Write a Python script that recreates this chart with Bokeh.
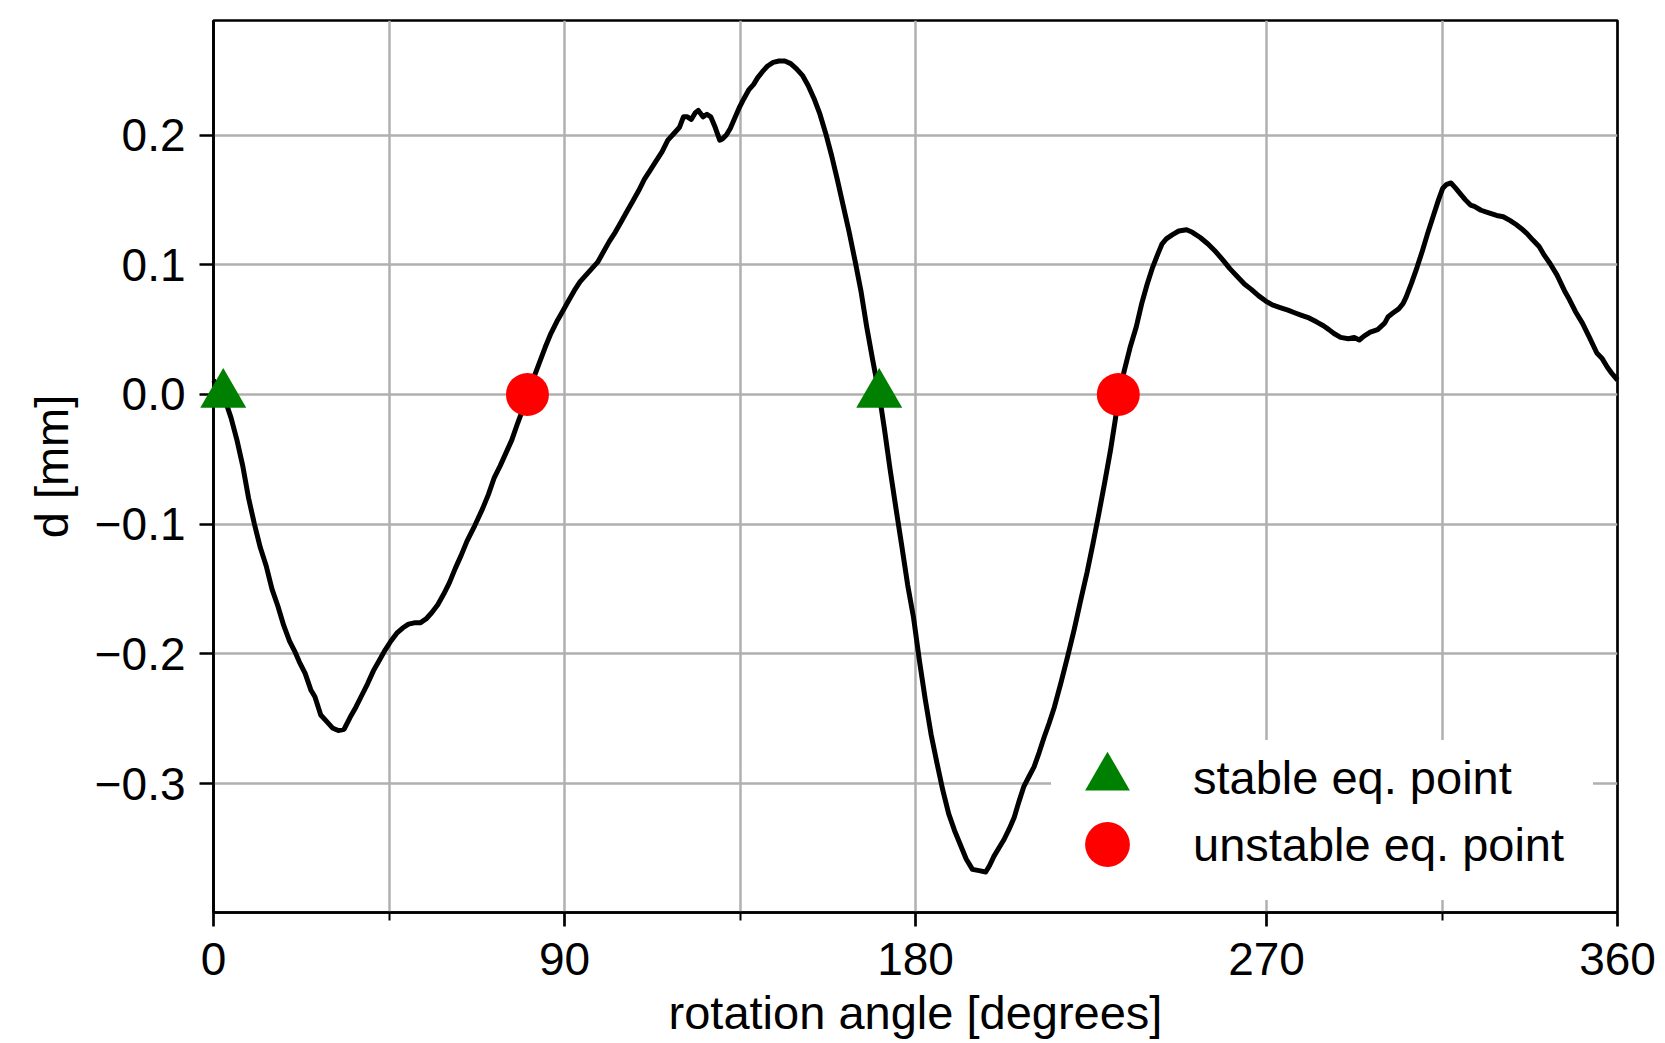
from bokeh.plotting import figure
from bokeh.models import Range1d, FixedTicker, CustomJSTickFormatter, Legend, LegendItem
from bokeh.embed import file_html
from bokeh.resources import INLINE

FONT = "Liberation Sans"

# ---- data ----
angle_deg = [
    0, 2.5, 4.5, 6, 7.5, 9, 10.5, 12, 13.5, 15, 16.5, 18, 19.5, 21, 22, 23.5, 25, 26, 27.5, 29,
    30.5, 32, 33.5, 35, 36.5, 38, 39.5, 41, 42.5, 44, 45.5, 47, 48.5, 50, 51.5, 53, 54.5, 56, 57.5, 59,
    60.5, 62, 63.5, 65, 67, 69, 70.5, 72, 73.5, 75, 76.5, 78, 79.5, 80.5,
    82, 83.5, 85, 86.5, 88, 89.5, 91, 92.5, 94, 95.5, 97, 98.5, 100, 101.5, 103, 104.5, 106, 107.5, 109, 110.5,
    112, 113.5, 115, 116.5, 118, 119.5, 120.5, 121.5, 122.5, 123.5, 124.3, 125.5, 126.5, 127.5, 128.5,
    129.8, 130.5, 131.5, 132.5, 133.5, 134.8, 136, 137.3, 138.5, 139.5, 140.8, 142, 143.5, 145, 146.5,
    148, 149.5, 151, 152.5, 154, 155.5, 157, 158.5, 160, 161.5, 163, 164.5, 166, 167.5, 169, 170.7,
    172, 173.5, 175, 176.5, 178, 179.5, 181, 182.5, 184, 185.5, 187, 188.5, 190, 191.5, 193,
    194.6, 196.3, 198, 199, 200.1, 201.5, 202.7, 204, 205.3, 206.5, 207.8, 209, 210.4, 211.7, 213,
    214.3, 215.6, 217.3, 219, 220.7, 222.4, 224, 225.5, 227, 228.5, 230, 231.2, 232.2,
    233.5, 235, 236.6, 238, 239.4, 240.8, 242.1, 243.2, 244.3, 245.8, 247.5, 249.5, 251, 253, 255,
    257, 259, 260.6, 262.5, 264.4, 266.1, 268, 269.8, 271.5, 273.5, 275.5, 277.2, 279, 280.9, 282.8,
    284.6, 286, 287.3, 289, 291, 292.5, 293.8, 295, 296.6, 298.5, 300.3, 301.2, 302.5, 303.9, 305,
    305.8, 307.2, 308.6, 310, 311.3, 312.7, 314.1, 315.2, 316.2, 317.3, 318.5, 319.6, 321, 322.3, 323.3,
    325, 327, 329, 330.7, 332.5, 334, 335.3, 336.8, 338.3, 339.9, 341.3, 342.7, 344.5, 346.4, 347.7,
    349.2, 351, 352.8, 354.7, 356, 357.4, 358.6, 360,
]
d_mm = [
    0.011, 0.0, -0.018, -0.035, -0.055, -0.080, -0.100, -0.118, -0.132, -0.150, -0.163, -0.178, -0.190, -0.199, -0.206, -0.215, -0.228, -0.233, -0.247, -0.252,
    -0.257, -0.259, -0.258, -0.249, -0.241, -0.232, -0.223, -0.213, -0.205, -0.197, -0.190, -0.184, -0.180, -0.177, -0.176, -0.176, -0.173, -0.168, -0.162, -0.154,
    -0.145, -0.134, -0.124, -0.113, -0.101, -0.088, -0.077, -0.064, -0.055, -0.045, -0.035, -0.022, -0.010, 0.0,
    0.012, 0.024, 0.036, 0.047, 0.056, 0.064, 0.072, 0.080, 0.087, 0.092, 0.097, 0.102, 0.110, 0.118, 0.125, 0.133, 0.141, 0.149, 0.157, 0.166,
    0.173, 0.180, 0.187, 0.196, 0.201, 0.206, 0.214, 0.214, 0.212, 0.217, 0.219, 0.214, 0.216, 0.214, 0.207,
    0.196, 0.197, 0.200, 0.205, 0.212, 0.221, 0.228, 0.235, 0.239, 0.244, 0.249, 0.253, 0.256, 0.257, 0.257,
    0.255, 0.251, 0.246, 0.238, 0.228, 0.216, 0.201, 0.184, 0.165, 0.145, 0.125, 0.103, 0.080, 0.052, 0.027, 0.0,
    -0.026, -0.058, -0.088, -0.117, -0.147, -0.172, -0.205, -0.235, -0.262, -0.284, -0.305, -0.323, -0.336, -0.347, -0.358,
    -0.366, -0.367, -0.368, -0.363, -0.356, -0.349, -0.343, -0.335, -0.326, -0.314, -0.302, -0.295, -0.287, -0.276, -0.264,
    -0.253, -0.241, -0.222, -0.202, -0.181, -0.158, -0.137, -0.115, -0.092, -0.068, -0.043, -0.020, 0.0,
    0.018, 0.036, 0.052, 0.070, 0.085, 0.098, 0.108, 0.116, 0.120, 0.123, 0.126, 0.127, 0.125, 0.121, 0.116,
    0.110, 0.103, 0.097, 0.091, 0.085, 0.081, 0.076, 0.072, 0.069, 0.067, 0.065, 0.063, 0.061, 0.059, 0.056,
    0.053, 0.050, 0.047, 0.044, 0.043, 0.044, 0.042, 0.045, 0.048, 0.050, 0.055, 0.060, 0.063, 0.066, 0.070,
    0.075, 0.086, 0.098, 0.111, 0.124, 0.137, 0.150, 0.159, 0.162, 0.163, 0.159, 0.155, 0.150, 0.146, 0.145,
    0.142, 0.140, 0.138, 0.137, 0.134, 0.131, 0.128, 0.124, 0.119, 0.114, 0.107, 0.101, 0.092, 0.080, 0.073,
    0.064, 0.055, 0.044, 0.032, 0.028, 0.021, 0.016, 0.011,
]
assert len(angle_deg) == len(d_mm)

stable_angle = [2.5, 170.7]
stable_d = [0.0, 0.0]
unstable_angle = [80.5, 232.0]
unstable_d = [0.0, 0.0]

x_ticks = [0, 90, 180, 270, 360]
x_minor_ticks = [45, 135, 315]
y_ticks = [-0.3, -0.2, -0.1, 0.0, 0.1, 0.2]

legend_labels = ["stable eq. point", "unstable eq. point"]
x_label = "rotation angle [degrees]"
y_label = "d [mm]"

# matplotlib-like 5% autoscale margin on y
span = max(d_mm) - min(d_mm)
y_lo = min(d_mm) - 0.05 * span
y_hi = max(d_mm) + 0.05 * span

W, H = 1662, 1043
p = figure(width=W, height=H, output_backend="svg", toolbar_location=None,
           x_range=Range1d(x_ticks[0], x_ticks[-1]), y_range=Range1d(y_lo, y_hi),
           min_border_left=213, min_border_right=W - 1617, min_border_top=20,
           min_border_bottom=H - 912)
p.background_fill_color = "white"
p.border_fill_color = "white"
p.outline_line_color = "black"
p.outline_line_width = 2.7
p.outline_line_alpha = 1.0

xt = FixedTicker(ticks=x_ticks, minor_ticks=x_minor_ticks)
yt = FixedTicker(ticks=y_ticks, minor_ticks=[])
p.xaxis.ticker = xt
p.yaxis.ticker = yt
p.xgrid.ticker = xt
p.ygrid.ticker = yt

for g in (p.xgrid[0], p.ygrid[0]):
    g.grid_line_color = "#b0b0b0"
    g.grid_line_width = 2.5
p.xgrid.minor_grid_line_color = "#b0b0b0"
p.xgrid.minor_grid_line_width = 2.5

for ax in (p.xaxis[0], p.yaxis[0]):
    ax.axis_line_color = "black"
    ax.axis_line_width = 2.7
    ax.major_tick_line_color = "black"
    ax.major_tick_line_width = 2.7
    ax.major_tick_out = 14
    ax.major_tick_in = 0
    ax.minor_tick_line_color = "black"
    ax.minor_tick_line_width = 2.0
    ax.minor_tick_out = 8
    ax.minor_tick_in = 0
    ax.major_label_text_font = FONT
    ax.major_label_text_font_size = "46px"
    ax.major_label_text_color = "black"
    ax.axis_label_text_font = FONT
    ax.axis_label_text_font_size = "47px"
    ax.axis_label_text_font_style = "normal"
    ax.axis_label_text_color = "black"

p.xaxis.axis_label = x_label
p.yaxis.axis_label = y_label
p.xaxis.major_label_standoff = 16
p.xaxis.axis_label_standoff = 8
p.yaxis.major_label_standoff = 14
p.yaxis.axis_label_standoff = 14
p.yaxis.formatter = CustomJSTickFormatter(
    code="return (tick < -1e-9 ? '\\u2212' : '') + Math.abs(tick).toFixed(1);")

p.line(angle_deg, d_mm, line_color="black", line_width=5, line_join="round", level="overlay")
tri = p.scatter(stable_angle, stable_d, marker="triangle", size=46,
                fill_color="green", line_color=None, level="overlay")
circ = p.scatter(unstable_angle, unstable_d, marker="circle", size=43,
                 fill_color="red", line_color=None, level="overlay")

# one legend box per entry so that the rows can sit closer than the glyph box height;
# the lower box carries the white background (extended upward by a blank title),
# the upper one is transparent and drawn last.
legend_style = dict(glyph_width=112, glyph_height=112, padding=0, margin=0,
                    label_standoff=30, label_width=400,
                    label_text_font=FONT, label_text_font_size="47px", label_text_color="black",
                    border_line_alpha=0)
leg2 = Legend(items=[LegendItem(label=legend_labels[1], renderers=[circ])],
              location=(838, 12), background_fill_color="white", background_fill_alpha=1.0,
              title=" ", title_text_font=FONT, title_text_font_size="36px", title_standoff=6,
              **legend_style)
leg1 = Legend(items=[LegendItem(label=legend_labels[0], renderers=[tri])],
              location=(838, 79), background_fill_alpha=0.0, **legend_style)
p.add_layout(leg2)
p.add_layout(leg1)

open("out.html", "w").write(file_html(p, INLINE))
